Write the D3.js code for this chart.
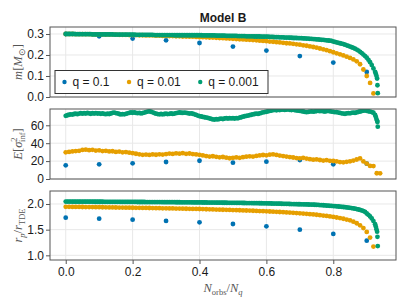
<!DOCTYPE html>
<html>
<head>
<meta charset="utf-8">
<script src="https://cdn.jsdelivr.net/npm/d3@7"></script>
<style>
  body { margin: 0; background: #fff; }
  svg text { font-family: 'Liberation Sans', Arial, sans-serif; fill: #1a1a1a; }
  svg text.math { font-family: 'Liberation Serif', serif; fill: #555; font-size: 12.5px; }
</style>
</head>
<body>
<svg id="chart" width="407" height="306"></svg>
<script>
const title = 'Model B'
const qLabels = ['q = 0.1', 'q = 0.01', 'q = 0.001']
const colors = ['#0072B2', '#E69F00', '#009E73']
const xTicks = [0, 0.2, 0.4, 0.6, 0.8]
const mTicks = [0, 0.1, 0.2, 0.3]
const eTicks = [0, 20, 40, 60]
const rTicks = [1.0, 1.5, 2.0]

// q = 0.1, one point every 0.1
const xBlue = [0, 0.1, 0.2, 0.3, 0.4, 0.5, 0.6, 0.7, 0.8, 0.9]
const mBlue = [0.300, 0.289, 0.278, 0.270, 0.257, 0.240, 0.221, 0.195, 0.164, 0.119]
const eBlue = [15.3, 16.4, 17.5, 19.0, 20.4, 18.2, 19.4, 21.1, 16.5, 17.1]
const rBlue = [1.733, 1.714, 1.694, 1.670, 1.643, 1.610, 1.565, 1.500, 1.416, 1.285]

// q = 0.01, one point every 0.01
const orangeStep = 0.01
const mOrange = [
  0.300, 0.300, 0.300, 0.299, 0.299, 0.299, 0.299, 0.299, 0.298, 0.298,
  0.298, 0.298, 0.297, 0.297, 0.297, 0.297, 0.296, 0.296, 0.296, 0.295,
  0.295, 0.295, 0.294, 0.294, 0.293, 0.293, 0.293, 0.292, 0.292, 0.291,
  0.291, 0.290, 0.290, 0.289, 0.289, 0.288, 0.288, 0.287, 0.287, 0.286,
  0.285, 0.285, 0.284, 0.283, 0.283, 0.282, 0.281, 0.280, 0.279, 0.278,
  0.277, 0.276, 0.275, 0.274, 0.273, 0.272, 0.271, 0.270, 0.268, 0.267,
  0.266, 0.264, 0.263, 0.261, 0.260, 0.258, 0.256, 0.255, 0.253, 0.251,
  0.249, 0.246, 0.244, 0.241, 0.238, 0.235, 0.231, 0.227, 0.223, 0.218,
  0.213, 0.208, 0.203, 0.198, 0.192, 0.186, 0.179, 0.170, 0.156, 0.131,
  0.100, 0.067, 0.017
]
const eOrange = [
  29.8, 30.2, 30.8, 31.2, 31.5, 32.5, 32.8, 32.2, 32.6, 31.8,
  32.0, 31.2, 31.5, 30.8, 31.0, 30.3, 30.6, 29.8, 30.1, 29.4,
  28.9, 28.2, 27.6, 27.0, 27.3, 26.9, 27.4, 27.1, 27.6, 27.3,
  27.9, 28.4, 28.0, 28.7, 28.3, 28.8, 28.1, 28.5, 27.8, 27.4,
  27.0, 26.3, 25.6, 25.1, 25.4, 24.8, 24.2, 24.6, 23.8, 23.2,
  23.6, 24.1, 23.7, 24.4, 24.9, 25.3, 25.0, 25.8, 26.3, 26.8,
  26.4, 27.2, 27.6, 26.9, 26.2, 25.6, 25.1, 24.5, 24.0, 23.4,
  23.1, 23.6, 22.8, 22.2, 21.6, 21.9, 21.2, 20.6, 21.0, 20.3,
  20.1, 19.6, 18.9, 18.6, 19.2, 19.8, 20.6, 21.8, 23.0, 19.6,
  17.2, 14.6, 14.4, 6.4, 6.3
]
const rOrange = [
  1.945, 1.944, 1.943, 1.943, 1.942, 1.941, 1.940, 1.940, 1.939, 1.938,
  1.937, 1.936, 1.935, 1.934, 1.933, 1.932, 1.931, 1.930, 1.929, 1.928,
  1.927, 1.926, 1.925, 1.924, 1.923, 1.922, 1.920, 1.919, 1.918, 1.916,
  1.915, 1.914, 1.913, 1.911, 1.910, 1.909, 1.907, 1.906, 1.904, 1.903,
  1.902, 1.900, 1.898, 1.896, 1.894, 1.892, 1.890, 1.888, 1.886, 1.884,
  1.882, 1.880, 1.878, 1.875, 1.873, 1.871, 1.868, 1.865, 1.862, 1.860,
  1.857, 1.854, 1.851, 1.847, 1.844, 1.840, 1.836, 1.832, 1.827, 1.823,
  1.818, 1.813, 1.808, 1.802, 1.796, 1.790, 1.783, 1.775, 1.767, 1.758,
  1.748, 1.737, 1.725, 1.712, 1.697, 1.681, 1.655, 1.625, 1.585, 1.530,
  1.455, 1.345, 1.170
]

// q = 0.001, read every 0.005 up to 0.925, then the last few points
const greenStep = 0.005
const greenTailX = [0.927, 0.929, 0.931, 0.932, 0.933]
const mGreen = [
  0.300, 0.300, 0.300, 0.300, 0.300, 0.300, 0.299, 0.299, 0.299, 0.299, 0.299, 0.299, 0.299, 0.299, 0.299, 0.299, 0.298, 0.298, 0.298, 0.298,
  0.298, 0.298, 0.298, 0.298, 0.298, 0.298, 0.298, 0.298, 0.298, 0.297, 0.297, 0.297, 0.297, 0.297, 0.297, 0.297, 0.297, 0.297, 0.297, 0.297,
  0.297, 0.297, 0.296, 0.296, 0.296, 0.296, 0.296, 0.296, 0.296, 0.296, 0.296, 0.296, 0.296, 0.295, 0.295, 0.295, 0.295, 0.295, 0.295, 0.295,
  0.295, 0.295, 0.295, 0.295, 0.295, 0.294, 0.294, 0.294, 0.294, 0.294, 0.294, 0.294, 0.294, 0.294, 0.294, 0.294, 0.294, 0.294, 0.294, 0.294,
  0.294, 0.294, 0.293, 0.293, 0.293, 0.293, 0.293, 0.293, 0.293, 0.293, 0.292, 0.292, 0.292, 0.292, 0.292, 0.292, 0.291, 0.291, 0.291, 0.291,
  0.291, 0.291, 0.291, 0.290, 0.290, 0.290, 0.290, 0.290, 0.289, 0.289, 0.289, 0.289, 0.289, 0.288, 0.288, 0.288, 0.288, 0.287, 0.287, 0.287,
  0.287, 0.287, 0.286, 0.286, 0.286, 0.285, 0.285, 0.285, 0.284, 0.284, 0.284, 0.283, 0.283, 0.283, 0.282, 0.282, 0.281, 0.281, 0.281, 0.280,
  0.280, 0.280, 0.279, 0.279, 0.278, 0.278, 0.277, 0.277, 0.276, 0.276, 0.274, 0.274, 0.273, 0.272, 0.272, 0.271, 0.270, 0.269, 0.268, 0.267,
  0.264, 0.262, 0.260, 0.258, 0.256, 0.254, 0.252, 0.249, 0.246, 0.243, 0.240, 0.237, 0.234, 0.230, 0.226, 0.221, 0.215, 0.209, 0.202, 0.195,
  0.187, 0.177, 0.166, 0.152, 0.136, 0.120,
  0.111, 0.101, 0.088, 0.056, 0.018
]
const eGreen = [
  70.6, 71.2, 71.8, 72.3, 72.0, 72.6, 72.9, 72.4, 73.1, 73.5, 73.0, 73.6, 73.2, 73.8, 73.3, 72.9, 73.5, 73.1, 73.6, 73.2,
  73.4, 72.8, 73.3, 72.7, 72.4, 72.9, 72.6, 73.2, 73.9, 74.2, 73.7, 73.3, 72.6, 72.1, 72.5, 72.2, 72.8, 73.4, 73.9, 74.3,
  74.0, 74.4, 73.8, 73.5, 73.9, 73.3, 73.6, 74.2, 74.8, 75.3, 75.6, 75.1, 74.5, 73.7, 73.0, 72.5, 72.2, 72.6, 72.3, 72.6,
  72.9, 72.5, 72.8, 73.2, 72.7, 73.1, 73.6, 73.9, 74.3, 74.0, 73.8, 74.2, 73.9, 73.5, 73.1, 73.4, 72.9, 72.2, 71.6, 70.9,
  70.2, 69.8, 69.3, 69.0, 68.6, 68.3, 67.7, 67.1, 66.6, 66.4, 66.8, 66.5, 67.1, 67.4, 67.0, 67.6, 67.9, 67.5, 68.0, 67.7,
  67.9, 67.6, 68.1, 67.8, 68.5, 69.0, 69.6, 70.1, 70.5, 70.9, 71.3, 71.8, 72.2, 72.6, 73.0, 72.7, 73.3, 73.9, 74.5, 74.8,
  75.1, 75.6, 76.0, 76.4, 76.9, 77.2, 76.8, 77.3, 77.0, 77.4, 77.6, 77.2, 77.5, 77.8, 77.3, 77.0, 77.4, 76.9, 76.6, 76.3,
  76.2, 75.8, 75.4, 75.0, 74.7, 74.9, 75.3, 75.6, 75.2, 75.5, 75.9, 76.2, 75.8, 76.1, 75.7, 75.4, 75.8, 76.1, 75.6, 75.3,
  75.0, 74.6, 74.8, 74.2, 73.8, 73.4, 73.1, 72.8, 73.3, 73.7, 73.4, 73.9, 74.2, 73.8, 74.4, 74.9, 75.4, 75.9, 76.3, 76.6,
  76.2, 75.7, 75.3, 74.8, 74.0, 71.5,
  69.5, 67.0, 65.0, 63.8, 58.4
]
const rGreen = [
  2.047, 2.047, 2.047, 2.047, 2.046, 2.046, 2.046, 2.046, 2.046, 2.046, 2.046, 2.045, 2.045, 2.045, 2.045, 2.045, 2.045, 2.044, 2.044, 2.044,
  2.044, 2.044, 2.044, 2.043, 2.043, 2.043, 2.043, 2.043, 2.042, 2.042, 2.042, 2.042, 2.042, 2.041, 2.041, 2.041, 2.041, 2.041, 2.040, 2.040,
  2.040, 2.040, 2.040, 2.039, 2.039, 2.039, 2.039, 2.039, 2.038, 2.038, 2.038, 2.038, 2.038, 2.037, 2.037, 2.037, 2.037, 2.037, 2.036, 2.036,
  2.036, 2.036, 2.036, 2.035, 2.035, 2.035, 2.034, 2.034, 2.034, 2.033, 2.033, 2.033, 2.033, 2.032, 2.032, 2.032, 2.031, 2.031, 2.031, 2.030,
  2.030, 2.030, 2.029, 2.029, 2.029, 2.028, 2.028, 2.027, 2.027, 2.027, 2.026, 2.026, 2.025, 2.025, 2.024, 2.024, 2.024, 2.023, 2.023, 2.022,
  2.022, 2.022, 2.021, 2.021, 2.020, 2.020, 2.019, 2.019, 2.018, 2.018, 2.017, 2.017, 2.016, 2.016, 2.015, 2.015, 2.014, 2.014, 2.013, 2.013,
  2.012, 2.011, 2.011, 2.010, 2.009, 2.008, 2.008, 2.007, 2.006, 2.005, 2.004, 2.003, 2.002, 2.001, 2.000, 1.999, 1.998, 1.997, 1.996, 1.995,
  1.995, 1.994, 1.993, 1.992, 1.991, 1.990, 1.989, 1.988, 1.987, 1.985, 1.983, 1.981, 1.979, 1.977, 1.975, 1.973, 1.970, 1.968, 1.965, 1.963,
  1.960, 1.957, 1.954, 1.951, 1.948, 1.945, 1.941, 1.937, 1.933, 1.929, 1.925, 1.920, 1.914, 1.908, 1.901, 1.893, 1.884, 1.874, 1.862, 1.848,
  1.815, 1.788, 1.757, 1.718, 1.668, 1.605,
  1.56, 1.51, 1.46, 1.36, 1.18
]

const xGrid = (values, step) => values.map((_, i) => i * step)
const xGreen = mGreen.slice(0, mGreen.length - greenTailX.length)
  .map((_, i) => i * greenStep).concat(greenTailX)

const pairs = (xs, ys) => ys.map((y, i) => ({ x: xs[i], y }))

const panels = [
  {
    top: 27, bottom: 97, domain: [0, 0.3333], ticks: mTicks, fmt: d3.format('.1f'),
    label: [{ t: 'm', it: true }, { t: '[' }, { t: 'M', it: true }, { t: '\u2299', dy: 3 }, { t: ']' }],
    series: [pairs(xBlue, mBlue), pairs(xGrid(mOrange, orangeStep), mOrange), pairs(xGreen, mGreen)]
  },
  {
    top: 109, bottom: 179, domain: [0, 78.2], ticks: eTicks, fmt: d3.format('d'),
    label: [{ t: 'E', it: true }, { t: '[' }, { t: '\u03c3', it: true }, { t: '2', dy: -5 }, { t: 'inf', dy: 3, dx: -4.5 }, { t: ']' }],
    series: [pairs(xBlue, eBlue), pairs(xGrid(eOrange, orangeStep), eOrange), pairs(xGreen, eGreen)]
  },
  {
    top: 191, bottom: 260, domain: [0.909, 2.253], ticks: rTicks, fmt: d3.format('.1f'),
    label: [{ t: 'r', it: true }, { t: 'p', it: true, dy: 3 }, { t: '/' }, { t: 'r', it: true }, { t: 'TDE', dy: 3 }],
    series: [pairs(xBlue, rBlue), pairs(xGrid(rOrange, orangeStep), rOrange), pairs(xGreen, rGreen)]
  }
]

const left = 50, right = 396
const svg = d3.select('#chart')
const x = d3.scaleLinear().domain([-0.047, 0.9875]).range([left, right])

// write a math-ish label out of tspans, sub/superscripts via dy
const mathText = (sel, parts) => {
  let shift = 0
  parts.forEach(p => {
    sel.append('tspan')
      .attr('dy', (p.dy || 0) - shift)
      .attr('dx', p.dx || 0)
      .style('font-style', p.it ? 'italic' : 'normal')
      .style('font-size', p.dy ? '8.5px' : null)
      .text(p.t)
    shift = p.dy || 0
  })
}

svg.append('text')
  .attr('x', (left + right) / 2)
  .attr('y', 22)
  .attr('text-anchor', 'middle')
  .style('font-weight', 'bold')
  .style('font-size', '12px')
  .text(title)

panels.forEach((p, k) => {
  const y = d3.scaleLinear().domain(p.domain).range([p.bottom, p.top])
  const g = svg.append('g')
  const clipId = 'clip' + k
  svg.append('clipPath').attr('id', clipId)
    .append('rect')
      .attr('x', left).attr('y', p.top)
      .attr('width', right - left).attr('height', p.bottom - p.top)

  // grid
  g.selectAll('line.vgrid')
    .data(xTicks)
    .join('line')
      .attr('class', 'vgrid')
      .attr('x1', d => x(d)).attr('x2', d => x(d))
      .attr('y1', p.top).attr('y2', p.bottom)
      .attr('stroke', '#e8e8e8')
  g.selectAll('line.hgrid')
    .data(p.ticks)
    .join('line')
      .attr('class', 'hgrid')
      .attr('x1', left).attr('x2', right)
      .attr('y1', d => y(d)).attr('y2', d => y(d))
      .attr('stroke', '#e8e8e8')

  // points, blue under orange under green
  const pts = g.append('g').attr('clip-path', `url(#${clipId})`)
  p.series.forEach((s, i) => {
    pts.append('g')
      .selectAll('circle')
      .data(s)
      .join('circle')
        .attr('cx', d => x(d.x))
        .attr('cy', d => y(d.y))
        .attr('r', 2.4)
        .attr('fill', colors[i])
  })

  // frame
  g.append('rect')
    .attr('x', left).attr('y', p.top)
    .attr('width', right - left).attr('height', p.bottom - p.top)
    .attr('fill', 'none')
    .attr('stroke', '#555')

  // y axis
  const yAxis = g.append('g')
    .attr('transform', `translate(${left},0)`)
    .call(d3.axisLeft(y).tickValues(p.ticks).tickFormat(p.fmt).tickSize(4).tickPadding(2))
  yAxis.select('.domain').remove()
  yAxis.selectAll('line').attr('stroke', '#555')
  yAxis.selectAll('text').style('font-size', '12px').attr('fill', '#1a1a1a')

  g.append('text')
    .attr('class', 'math')
    .attr('text-anchor', 'middle')
    .attr('transform', `translate(22,${(p.top + p.bottom) / 2}) rotate(-90)`)
    .call(mathText, p.label)

  if (k === panels.length - 1) {
    const xAxis = g.append('g')
      .attr('transform', `translate(0,${p.bottom})`)
      .call(d3.axisBottom(x).tickValues(xTicks).tickFormat(d3.format('.1f')).tickSize(4).tickPadding(3))
    xAxis.select('.domain').remove()
    xAxis.selectAll('line').attr('stroke', '#555')
    xAxis.selectAll('text').style('font-size', '12px').attr('fill', '#1a1a1a')

    g.append('text')
      .attr('class', 'math')
      .attr('text-anchor', 'middle')
      .attr('x', (left + right) / 2)
      .attr('y', 292)
      .call(mathText, [{ t: 'N', it: true }, { t: 'orbs', dy: 3 }, { t: '/' }, { t: 'N', it: true }, { t: 'q', it: true, dy: 3 }])
  }
})

// legend in the first panel
const legend = svg.append('g')
legend.append('rect')
  .attr('x', 55).attr('y', 70.5)
  .attr('width', 213).attr('height', 23)
  .attr('fill', '#fff')
  .attr('stroke', '#333')
let lx = 64.5
qLabels.forEach((label, i) => {
  legend.append('circle')
    .attr('cx', lx).attr('cy', 82)
    .attr('r', 2.2)
    .attr('fill', colors[i])
  const t = legend.append('text')
    .attr('x', lx + 8).attr('y', 86.3)
    .style('font-size', '12px')
    .text(label)
  lx += 8 + t.node().getComputedTextLength() + 19.5
})
</script>
</body>
</html>
